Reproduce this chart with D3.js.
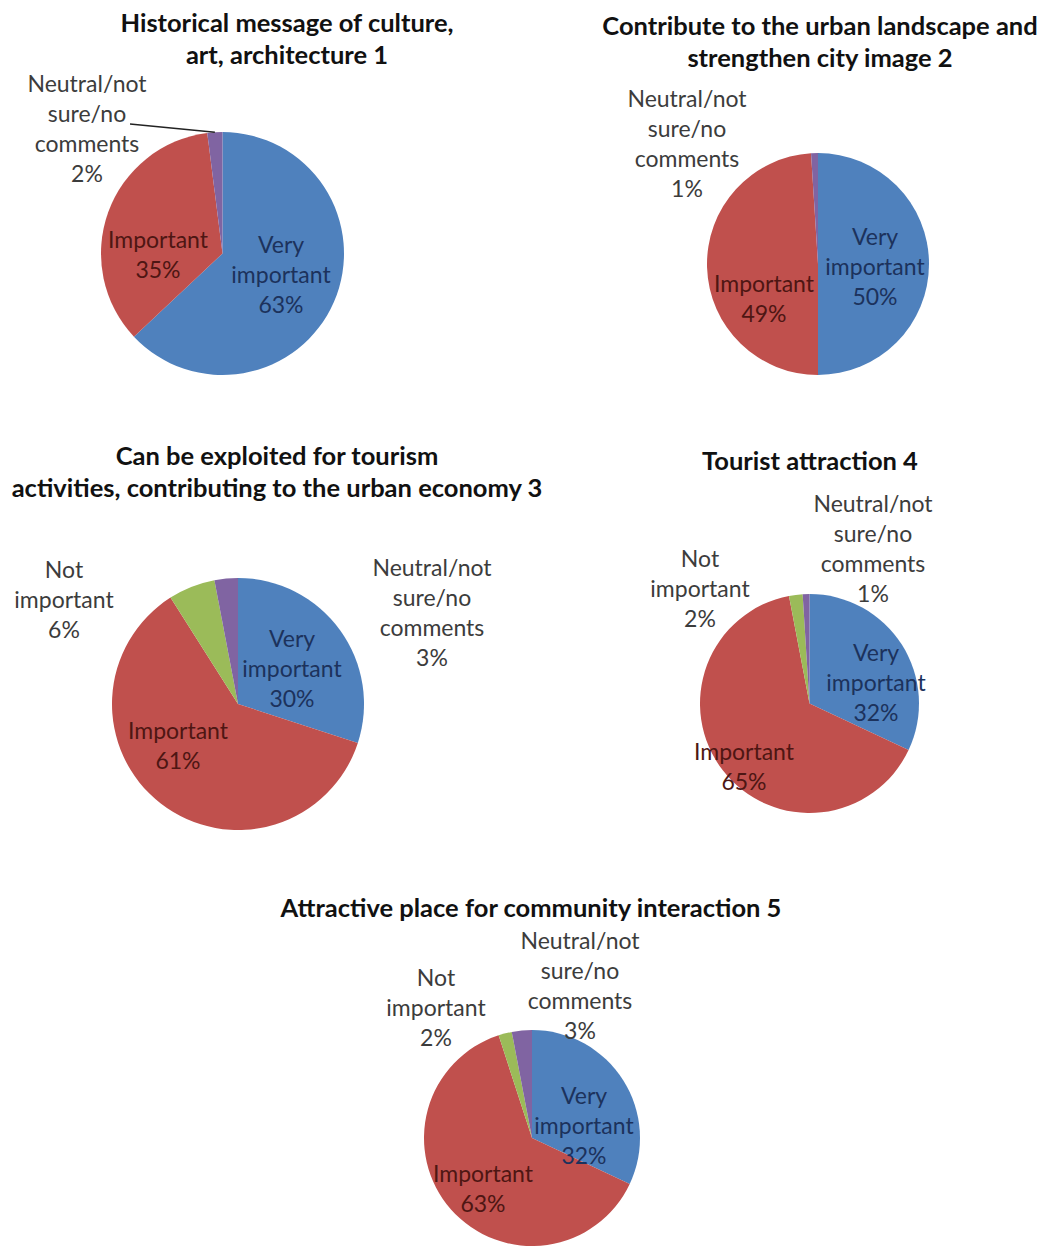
<!DOCTYPE html>
<html>
<head>
<meta charset="utf-8">
<script src="https://cdn.jsdelivr.net/npm/d3@7"></script>
<style>
  body { margin: 0; background: #ffffff; }
  svg { display: block; }
</style>
</head>
<body>
<svg id="chart" width="1048" height="1249"></svg>
<script>
// ---------- DATA ----------
const categories = ["Very important", "Important", "Not important", "Neutral/not sure/no comments"];
const titles = [
  ["Historical message of culture,", "art, architecture 1"],
  ["Contribute to the urban landscape and", "strengthen city image 2"],
  ["Can be exploited for tourism", "activities, contributing to the urban economy 3"],
  ["Tourist attraction 4"],
  ["Attractive place for community interaction 5"]
];
const values1 = [63, 35, 0, 2];
const values2 = [50, 49, 0, 1];
const values3 = [30, 61, 6, 3];
const values4 = [32, 65, 2, 1];
const values5 = [32, 63, 2, 3];
const seriesValues = [values1, values2, values3, values4, values5];

// ---------- LAYOUT / STYLE ----------
const colors = ["#4F81BD", "#C0504D", "#9BBB59", "#8064A2"];
const insideText = ["#1c325c", "#4e1613"];
const outsideText = "#3c3c3c";
const labelFont = "Lato, 'Open Sans', sans-serif";
const labelSize = 23, lineH = 30;
const titleSize = 25.5, titleLineH = 31.5;

// label block centres given as offsets from the pie centre
const layout = [
  { cx: 222.5, cy: 253.5, r: 121.5, tx: 287, ty: 22,
    lab: { 0: [58.5, 20.5], 1: [-64.5, 0.5], 3: [-135.5, -125.5] },
    leader: { cat: 3, from: [-92.5, -129.5] } },
  { cx: 818, cy: 264, r: 111, tx: 820, ty: 25,
    lab: { 0: [57, 2], 1: [-54, 34], 3: [-131, -121] } },
  { cx: 238, cy: 704, r: 126, tx: 277, ty: 455,
    lab: { 0: [54, -36], 1: [-60, 41], 2: [-174, -105], 3: [194, -92.5] } },
  { cx: 809.5, cy: 703.5, r: 109.5, tx: 810, ty: 460,
    lab: { 0: [66.5, -21.5], 1: [-65.5, 62.5], 2: [-109.5, -116], 3: [63.5, -155.5] } },
  { cx: 532, cy: 1138, r: 108, tx: 531, ty: 907,
    lab: { 0: [52, -13], 1: [-49, 50], 2: [-96, -131.5], 3: [48, -153.5] } }
];

const svg = d3.select("#chart");
const pie = d3.pie().sort(null).value(d => d);

seriesValues.forEach((vals, i) => {
  const L = layout[i];
  const g = svg.append("g");

  // title
  g.append("g").selectAll("text")
    .data(titles[i]).join("text")
    .attr("x", L.tx)
    .attr("y", (d, k) => L.ty + k * titleLineH)
    .attr("text-anchor", "middle")
    .attr("dominant-baseline", "central")
    .attr("font-family", labelFont)
    .attr("font-weight", "bold")
    .attr("font-size", titleSize)
    .attr("fill", "#111")
    .text(d => d);

  const arcs = pie(vals);
  const arc = d3.arc().innerRadius(0).outerRadius(L.r);
  const pg = g.append("g").attr("transform", `translate(${L.cx},${L.cy})`);

  pg.selectAll("path")
    .data(arcs.filter(a => a.value > 0)).join("path")
    .attr("d", arc)
    .attr("fill", a => colors[a.index]);

  // leader line
  if (L.leader) {
    const a = arcs[L.leader.cat];
    const mid = (a.startAngle + a.endAngle) / 2;
    pg.append("line")
      .attr("x1", L.leader.from[0]).attr("y1", L.leader.from[1])
      .attr("x2", L.r * Math.sin(mid)).attr("y2", -L.r * Math.cos(mid))
      .attr("stroke", "#222").attr("stroke-width", 1.3);
  }

  // data labels
  arcs.filter(a => a.value > 0).forEach(a => {
    const off = L.lab[a.index];
    if (!off) return;
    const lines = categories[a.index].split(" ").concat([a.value + "%"]);
    const n = lines.length;
    const fill = a.index < 2 ? insideText[a.index] : outsideText;
    pg.append("g").selectAll("text")
      .data(lines).join("text")
      .attr("x", off[0])
      .attr("y", (d, k) => off[1] + (k - (n - 1) / 2) * lineH)
      .attr("text-anchor", "middle")
      .attr("dominant-baseline", "central")
      .attr("font-family", labelFont)
      .attr("font-size", labelSize)
      .attr("fill", fill)
      .text(d => d);
  });
});
</script>
</body>
</html>
